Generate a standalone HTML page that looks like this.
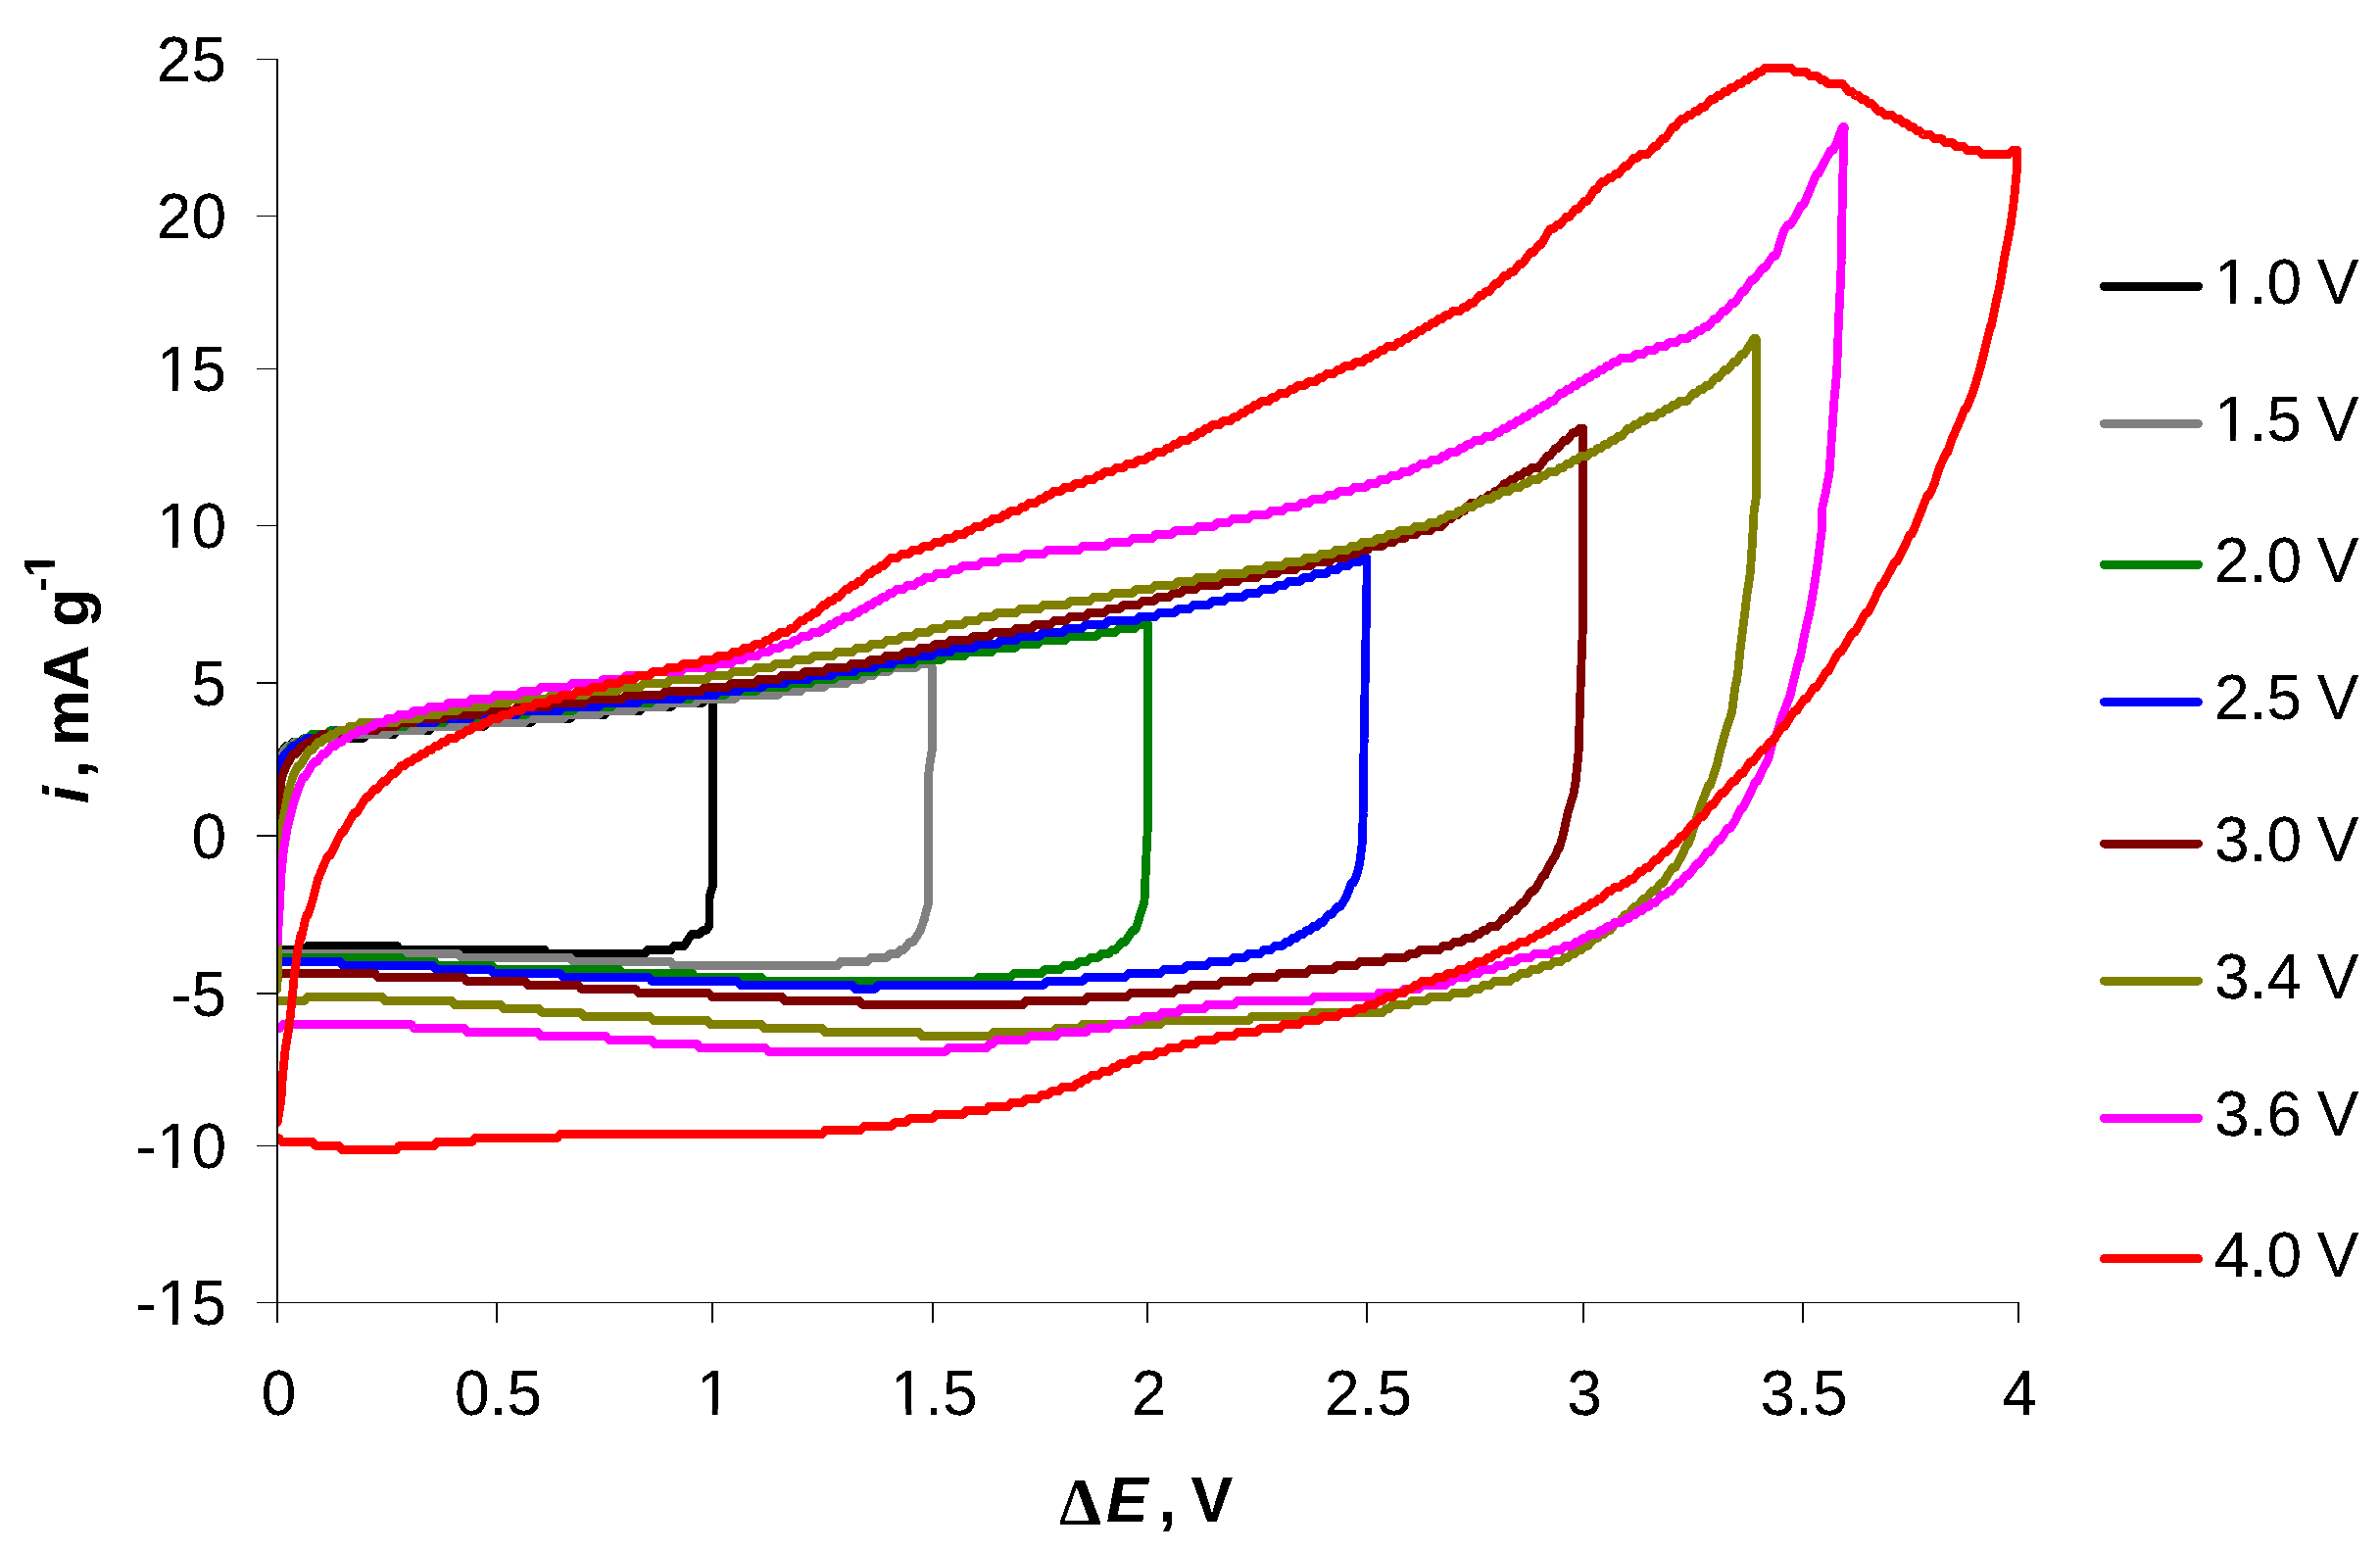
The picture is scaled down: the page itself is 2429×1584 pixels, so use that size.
<!DOCTYPE html>
<html><head><meta charset="utf-8"><title>CV chart</title>
<style>
html,body{margin:0;padding:0;background:#fff;}
body{width:2429px;height:1584px;overflow:hidden;}
svg{display:block;}
text{font-family:"Liberation Sans",Arial,sans-serif;fill:#000;}
</style></head><body>
<svg width="2429" height="1584" viewBox="0 0 2429 1584">
<rect width="2429" height="1584" fill="#fff"/>
<defs><clipPath id="pc"><rect x="283" y="40" width="1800" height="1289"/></clipPath>
<filter id="th" x="-5%" y="-5%" width="110%" height="110%" color-interpolation-filters="sRGB"><feComponentTransfer><feFuncA type="discrete" tableValues="0 0 1 1 1"/></feComponentTransfer></filter></defs>
<g clip-path="url(#pc)" fill="none" stroke-width="8.8" stroke-linejoin="round" stroke-linecap="round" shape-rendering="crispEdges">
<path d="M283.1 769.5 L286.0 769.5 L292.0 761.5 L295.5 761.5 L299.0 757.5 L306.6 757.5 L310.5 753.5 L370.3 753.5 L374.3 749.5 L402.1 749.5 L406.1 745.5 L437.9 745.5 L441.8 741.5 L493.7 741.5 L497.7 737.5 L541.5 737.5 L545.5 733.5 L581.3 733.5 L585.3 729.5 L617.1 729.5 L621.1 725.5 L652.9 725.5 L656.9 721.5 L684.7 721.5 L688.6 717.5 L716.4 717.5 L720.4 713.5 L727.6 713.5 L727.6 901.5 L727.1 905.5 L724.5 913.5 L724.0 917.5 L724.0 941.5 L723.6 945.5 L720.7 949.5 L717.5 949.5 L713.6 953.5 L706.2 953.5 L703.1 957.5 L698.3 965.5 L687.7 965.5 L684.8 969.5 L661.2 969.5 L658.3 973.5 L558.6 973.5 L555.8 969.5 L408.4 969.5 L405.5 965.5 L313.8 965.5 L310.7 969.5 L283.0 969.5" stroke="#000000"/>
<path d="M283.1 773.5 L285.5 773.5 L287.9 769.5 L290.4 765.5 L293.7 761.5 L297.1 761.5 L300.5 757.5 L308.1 757.5 L311.9 753.5 L339.6 753.5 L343.6 749.5 L395.4 749.5 L399.4 745.5 L431.2 745.5 L435.1 741.5 L479.0 741.5 L483.0 737.5 L534.8 737.5 L538.8 733.5 L574.6 733.5 L578.6 729.5 L610.4 729.5 L614.4 725.5 L646.2 725.5 L650.2 721.5 L678.0 721.5 L681.9 717.5 L709.7 717.5 L713.7 713.5 L749.5 713.5 L753.5 709.5 L793.3 709.5 L797.3 705.5 L817.0 705.5 L820.9 701.5 L840.6 701.5 L844.6 697.5 L864.2 697.5 L868.2 693.5 L879.7 693.5 L883.6 689.5 L891.2 689.5 L895.1 685.5 L906.6 685.5 L910.5 681.5 L934.3 681.5 L938.3 677.5 L950.2 677.5 L951.4 681.5 L951.4 765.5 L950.6 769.5 L949.2 777.5 L948.7 781.5 L948.3 785.5 L947.8 789.5 L947.6 793.5 L947.6 921.5 L946.6 925.5 L945.4 929.5 L944.3 933.5 L943.8 937.5 L943.3 937.5 L942.2 941.5 L939.4 949.5 L934.4 957.5 L931.6 961.5 L928.5 961.5 L925.5 965.5 L922.4 969.5 L919.3 969.5 L915.9 973.5 L908.4 973.5 L904.5 977.5 L888.9 977.5 L885.1 981.5 L857.9 981.5 L855.0 985.5 L687.3 985.5 L684.5 981.5 L584.8 981.5 L582.0 977.5 L470.6 977.5 L467.7 973.5 L283.0 973.5" stroke="#808080"/>
<path d="M283.1 781.5 L287.3 773.5 L289.4 773.5 L291.5 769.5 L293.9 765.5 L297.3 761.5 L300.6 761.5 L304.0 757.5 L307.4 757.5 L310.8 753.5 L314.3 753.5 L318.1 749.5 L333.6 749.5 L337.6 745.5 L361.3 745.5 L365.3 741.5 L413.2 741.5 L417.1 737.5 L452.9 737.5 L456.9 733.5 L492.7 733.5 L496.7 729.5 L536.6 729.5 L540.5 725.5 L584.4 725.5 L588.4 721.5 L624.2 721.5 L628.1 717.5 L664.0 717.5 L668.0 713.5 L703.8 713.5 L707.8 709.5 L739.6 709.5 L743.5 705.5 L771.3 705.5 L775.3 701.5 L803.1 701.5 L807.0 697.5 L826.8 697.5 L830.7 693.5 L850.4 693.5 L854.4 689.5 L874.1 689.5 L878.0 685.5 L893.6 685.5 L897.5 681.5 L909.2 681.5 L913.1 677.5 L932.8 677.5 L936.8 673.5 L960.5 673.5 L964.4 669.5 L984.2 669.5 L988.2 665.5 L1011.9 665.5 L1015.9 661.5 L1035.6 661.5 L1039.5 657.5 L1059.2 657.5 L1063.2 653.5 L1086.9 653.5 L1090.9 649.5 L1118.7 649.5 L1122.6 645.5 L1138.3 645.5 L1142.2 641.5 L1157.8 641.5 L1161.7 637.5 L1171.8 637.5 L1171.8 821.5 L1171.4 837.5 L1171.4 841.5 L1171.3 845.5 L1169.5 881.5 L1169.4 885.5 L1169.2 889.5 L1169.1 893.5 L1168.7 901.5 L1168.6 905.5 L1168.4 909.5 L1168.3 913.5 L1168.1 917.5 L1167.6 921.5 L1163.7 933.5 L1162.5 937.5 L1161.4 941.5 L1160.2 945.5 L1158.2 949.5 L1155.8 949.5 L1153.4 953.5 L1150.8 957.5 L1148.0 961.5 L1145.2 961.5 L1138.4 969.5 L1135.0 969.5 L1131.5 973.5 L1124.3 973.5 L1120.7 977.5 L1113.1 977.5 L1109.3 981.5 L1101.6 981.5 L1097.7 985.5 L1086.0 985.5 L1082.2 989.5 L1066.6 989.5 L1062.8 993.5 L1034.9 993.5 L1030.9 997.5 L999.2 997.5 L995.2 1001.5 L780.1 1001.5 L776.9 997.5 L709.5 997.5 L706.6 993.5 L635.3 993.5 L632.2 989.5 L504.7 989.5 L501.9 985.5 L446.5 985.5 L443.5 981.5 L411.7 981.5 L408.8 977.5 L283.0 977.5" stroke="#008000"/>
<path d="M283.1 785.5 L284.8 781.5 L286.6 777.5 L288.3 773.5 L290.7 769.5 L293.2 769.5 L295.8 765.5 L299.1 761.5 L302.6 761.5 L306.0 757.5 L309.6 757.5 L313.4 753.5 L324.8 753.5 L328.6 749.5 L340.2 749.5 L344.1 745.5 L371.9 745.5 L375.9 741.5 L403.7 741.5 L407.7 737.5 L443.5 737.5 L447.5 733.5 L479.3 733.5 L483.3 729.5 L527.1 729.5 L531.1 725.5 L570.9 725.5 L574.9 721.5 L610.7 721.5 L614.7 717.5 L650.5 717.5 L654.5 713.5 L694.3 713.5 L698.3 709.5 L730.1 709.5 L734.0 705.5 L753.8 705.5 L757.7 701.5 L777.4 701.5 L781.4 697.5 L801.1 697.5 L805.1 693.5 L824.8 693.5 L828.7 689.5 L848.5 689.5 L852.4 685.5 L872.1 685.5 L876.1 681.5 L891.7 681.5 L895.7 677.5 L911.3 677.5 L915.2 673.5 L930.9 673.5 L934.8 669.5 L950.5 669.5 L954.4 665.5 L970.1 665.5 L974.0 661.5 L993.7 661.5 L997.7 657.5 L1017.4 657.5 L1021.3 653.5 L1037.1 653.5 L1041.0 649.5 L1060.7 649.5 L1064.7 645.5 L1084.3 645.5 L1088.3 641.5 L1104.0 641.5 L1107.9 637.5 L1127.6 637.5 L1131.6 633.5 L1159.4 633.5 L1163.3 629.5 L1179.1 629.5 L1183.0 625.5 L1198.6 625.5 L1202.5 621.5 L1214.1 621.5 L1218.0 617.5 L1233.6 617.5 L1237.5 613.5 L1249.2 613.5 L1253.1 609.5 L1268.7 609.5 L1272.6 605.5 L1284.2 605.5 L1288.0 601.5 L1299.6 601.5 L1303.5 597.5 L1311.2 597.5 L1315.1 593.5 L1326.7 593.5 L1330.5 589.5 L1338.1 589.5 L1341.9 585.5 L1353.4 585.5 L1357.2 581.5 L1364.8 581.5 L1368.6 577.5 L1376.1 577.5 L1379.8 573.5 L1387.4 573.5 L1391.1 569.5 L1394.9 569.5 L1394.9 597.5 L1394.7 605.5 L1394.7 609.5 L1394.4 621.5 L1394.4 625.5 L1394.2 633.5 L1394.2 637.5 L1393.9 649.5 L1393.9 653.5 L1393.7 661.5 L1393.7 665.5 L1393.4 677.5 L1393.4 681.5 L1393.2 689.5 L1393.2 693.5 L1393.0 701.5 L1393.0 705.5 L1392.7 717.5 L1392.7 721.5 L1392.5 729.5 L1392.5 733.5 L1392.3 741.5 L1392.3 745.5 L1392.1 753.5 L1392.1 757.5 L1391.9 765.5 L1391.9 769.5 L1391.7 777.5 L1391.7 785.5 L1391.6 789.5 L1391.6 793.5 L1391.5 797.5 L1391.5 805.5 L1391.4 809.5 L1391.4 813.5 L1391.3 817.5 L1391.3 821.5 L1391.1 829.5 L1391.1 833.5 L1390.8 845.5 L1390.8 849.5 L1390.6 857.5 L1390.2 861.5 L1389.6 865.5 L1387.6 881.5 L1386.8 885.5 L1385.6 889.5 L1384.5 893.5 L1382.8 897.5 L1381.0 901.5 L1379.2 901.5 L1374.7 913.5 L1372.7 917.5 L1367.9 925.5 L1365.1 925.5 L1358.7 933.5 L1355.6 933.5 L1350.0 941.5 L1347.1 941.5 L1343.8 945.5 L1340.4 945.5 L1337.0 949.5 L1333.6 949.5 L1330.0 953.5 L1326.4 953.5 L1322.8 957.5 L1319.2 957.5 L1315.7 961.5 L1312.1 961.5 L1308.5 965.5 L1301.1 965.5 L1297.3 969.5 L1289.7 969.5 L1285.9 973.5 L1274.3 973.5 L1270.4 977.5 L1258.8 977.5 L1254.9 981.5 L1235.2 981.5 L1231.3 985.5 L1211.6 985.5 L1207.7 989.5 L1187.9 989.5 L1183.9 993.5 L1152.1 993.5 L1148.2 997.5 L1108.3 997.5 L1104.4 1001.5 L1068.6 1001.5 L1064.6 1005.5 L896.7 1005.5 L892.7 1009.5 L872.7 1009.5 L870.0 1005.5 L755.7 1005.5 L752.2 1001.5 L665.3 1001.5 L662.2 997.5 L574.7 997.5 L571.6 993.5 L504.0 993.5 L500.5 989.5 L445.3 989.5 L442.0 985.5 L350.2 985.5 L347.0 981.5 L283.1 981.5" stroke="#0000ff"/>
<path d="M283.1 845.5 L284.6 825.5 L285.0 821.5 L286.5 801.5 L286.9 797.5 L287.8 793.5 L290.6 785.5 L292.3 781.5 L294.6 777.5 L297.0 773.5 L299.3 769.5 L302.1 769.5 L305.0 765.5 L307.8 761.5 L311.0 761.5 L314.4 757.5 L317.8 757.5 L321.2 753.5 L324.9 753.5 L328.7 749.5 L352.4 749.5 L356.3 745.5 L384.1 745.5 L388.0 741.5 L403.6 741.5 L407.5 737.5 L423.2 737.5 L422.0 737.5 L424.6 733.5 L452.3 733.5 L456.3 729.5 L488.1 729.5 L492.1 725.5 L523.9 725.5 L527.9 721.5 L559.7 721.5 L563.6 717.5 L595.4 717.5 L599.4 713.5 L635.2 713.5 L639.2 709.5 L675.0 709.5 L679.0 705.5 L714.9 705.5 L718.8 701.5 L742.6 701.5 L746.5 697.5 L770.3 697.5 L774.2 693.5 L793.9 693.5 L797.9 689.5 L817.6 689.5 L821.5 685.5 L841.2 685.5 L845.2 681.5 L864.9 681.5 L868.9 677.5 L884.5 677.5 L888.4 673.5 L900.1 673.5 L904.0 669.5 L919.6 669.5 L923.5 665.5 L935.1 665.5 L939.0 661.5 L950.7 661.5 L954.5 657.5 L966.2 657.5 L970.1 653.5 L989.7 653.5 L993.7 649.5 L1009.4 649.5 L1013.4 645.5 L1033.0 645.5 L1037.0 641.5 L1052.7 641.5 L1056.6 637.5 L1072.3 637.5 L1076.2 633.5 L1087.9 633.5 L1091.8 629.5 L1107.4 629.5 L1111.3 625.5 L1126.9 625.5 L1130.8 621.5 L1142.5 621.5 L1146.4 617.5 L1162.0 617.5 L1165.9 613.5 L1177.6 613.5 L1181.4 609.5 L1193.0 609.5 L1196.8 605.5 L1204.6 605.5 L1208.4 601.5 L1220.0 601.5 L1223.9 597.5 L1243.5 597.5 L1247.5 593.5 L1263.2 593.5 L1267.1 589.5 L1282.8 589.5 L1286.7 585.5 L1302.4 585.5 L1306.3 581.5 L1321.9 581.5 L1325.8 577.5 L1337.5 577.5 L1341.4 573.5 L1357.0 573.5 L1360.9 569.5 L1372.6 569.5 L1376.5 565.5 L1384.1 565.5 L1387.8 561.5 L1395.4 561.5 L1399.2 557.5 L1410.6 557.5 L1414.4 553.5 L1421.9 553.5 L1425.7 549.5 L1433.4 549.5 L1437.2 545.5 L1444.8 545.5 L1448.6 541.5 L1460.0 541.5 L1463.9 537.5 L1471.3 537.5 L1477.9 529.5 L1481.2 529.5 L1484.5 525.5 L1487.8 525.5 L1491.1 521.5 L1494.4 521.5 L1497.7 517.5 L1501.1 513.5 L1508.2 513.5 L1511.8 509.5 L1515.4 509.5 L1518.9 505.5 L1522.3 505.5 L1525.6 501.5 L1528.9 501.5 L1535.5 493.5 L1538.7 493.5 L1542.0 489.5 L1545.3 489.5 L1548.8 485.5 L1552.4 485.5 L1556.0 481.5 L1559.6 481.5 L1563.2 477.5 L1570.3 477.5 L1576.1 469.5 L1578.9 465.5 L1581.7 465.5 L1584.6 461.5 L1587.4 457.5 L1590.2 457.5 L1593.2 453.5 L1596.3 449.5 L1599.4 449.5 L1602.4 445.5 L1605.5 441.5 L1608.6 441.5 L1611.8 437.5 L1615.7 437.5 L1615.7 633.5 L1615.5 637.5 L1615.4 641.5 L1615.0 649.5 L1614.9 653.5 L1614.7 657.5 L1614.6 661.5 L1614.4 665.5 L1614.3 669.5 L1614.1 673.5 L1614.0 677.5 L1613.8 681.5 L1613.7 685.5 L1613.5 689.5 L1613.4 693.5 L1613.2 697.5 L1613.0 705.5 L1612.8 709.5 L1612.7 713.5 L1612.5 717.5 L1611.7 749.5 L1611.5 753.5 L1611.2 765.5 L1610.9 769.5 L1608.9 789.5 L1608.6 793.5 L1608.1 797.5 L1607.5 801.5 L1606.8 805.5 L1606.2 809.5 L1600.2 829.5 L1597.5 841.5 L1596.7 845.5 L1595.8 849.5 L1595.0 853.5 L1591.4 865.5 L1590.2 865.5 L1589.0 869.5 L1587.2 873.5 L1582.4 881.5 L1580.2 885.5 L1578.4 889.5 L1576.7 893.5 L1574.7 893.5 L1572.6 897.5 L1570.4 901.5 L1568.0 905.5 L1565.3 909.5 L1562.6 909.5 L1555.1 921.5 L1552.7 921.5 L1550.0 925.5 L1546.8 929.5 L1543.6 929.5 L1540.4 933.5 L1537.3 937.5 L1534.2 937.5 L1531.0 941.5 L1527.9 945.5 L1520.7 945.5 L1517.2 949.5 L1513.6 949.5 L1510.0 953.5 L1506.4 953.5 L1502.9 957.5 L1495.4 957.5 L1491.6 961.5 L1484.0 961.5 L1480.3 965.5 L1472.7 965.5 L1468.9 969.5 L1449.3 969.5 L1445.7 973.5 L1438.5 973.5 L1434.5 977.5 L1415.2 977.5 L1411.2 981.5 L1387.8 981.5 L1383.8 985.5 L1364.4 985.5 L1360.4 989.5 L1337.1 989.5 L1333.2 993.5 L1305.7 993.5 L1301.9 997.5 L1278.4 997.5 L1274.8 1001.5 L1247.0 1001.5 L1243.3 1005.5 L1215.9 1005.5 L1211.9 1009.5 L1201.0 1009.5 L1197.2 1013.5 L1153.8 1013.5 L1149.8 1017.5 L1110.2 1017.5 L1107.1 1021.5 L1047.1 1021.5 L1043.8 1025.5 L880.6 1025.5 L876.8 1021.5 L801.2 1021.5 L798.2 1017.5 L726.6 1017.5 L723.3 1013.5 L651.8 1013.5 L648.5 1009.5 L593.4 1009.5 L590.1 1005.5 L539.0 1005.5 L535.9 1001.5 L476.4 1001.5 L473.2 997.5 L385.7 997.5 L382.5 993.5 L283.1 993.5" stroke="#800000"/>
<path d="M283.0 1009.5 L283.0 1005.5 L283.1 1001.5 L283.1 997.5 L283.2 993.5 L283.2 985.5 L283.3 981.5 L283.3 977.5 L283.4 973.5 L283.4 969.5 L283.5 965.5 L283.5 953.5 L283.6 949.5 L283.6 937.5 L283.7 933.5 L283.7 917.5 L283.8 913.5 L283.8 897.5 L283.9 893.5 L283.9 881.5 L284.0 877.5 L284.0 869.5 L284.5 865.5 L285.1 861.5 L285.6 857.5 L286.2 853.5 L287.2 845.5 L288.0 841.5 L288.7 837.5 L290.3 829.5 L291.0 825.5 L291.8 821.5 L293.2 813.5 L294.0 809.5 L294.9 805.5 L300.1 789.5 L302.2 785.5 L304.2 781.5 L306.4 781.5 L311.0 773.5 L313.4 769.5 L315.9 765.5 L318.8 765.5 L321.6 761.5 L324.5 757.5 L327.9 757.5 L331.4 753.5 L334.8 753.5 L338.2 749.5 L341.8 749.5 L345.6 745.5 L353.0 745.5 L356.7 741.5 L364.3 741.5 L368.0 737.5 L403.8 737.5 L407.7 733.5 L427.4 733.5 L431.4 729.5 L447.1 729.5 L451.0 725.5 L466.7 725.5 L470.6 721.5 L494.3 721.5 L498.3 717.5 L518.1 717.5 L522.0 713.5 L557.9 713.5 L561.8 709.5 L597.7 709.5 L601.6 705.5 L629.4 705.5 L633.4 701.5 L653.1 701.5 L657.0 697.5 L680.7 697.5 L684.7 693.5 L720.5 693.5 L724.5 689.5 L744.2 689.5 L748.2 685.5 L767.9 685.5 L771.8 681.5 L787.5 681.5 L791.4 677.5 L807.1 677.5 L811.0 673.5 L826.7 673.5 L830.6 669.5 L850.3 669.5 L854.2 665.5 L869.9 665.5 L873.8 661.5 L885.4 661.5 L889.3 657.5 L901.0 657.5 L904.8 653.5 L916.5 653.5 L920.4 649.5 L932.0 649.5 L935.9 645.5 L947.5 645.5 L951.4 641.5 L963.0 641.5 L966.9 637.5 L982.5 637.5 L986.3 633.5 L998.0 633.5 L1001.9 629.5 L1013.5 629.5 L1017.4 625.5 L1037.1 625.5 L1041.0 621.5 L1060.8 621.5 L1064.8 617.5 L1088.5 617.5 L1092.4 613.5 L1112.1 613.5 L1116.1 609.5 L1131.8 609.5 L1135.8 605.5 L1155.4 605.5 L1159.4 601.5 L1175.1 601.5 L1179.0 597.5 L1198.7 597.5 L1202.6 593.5 L1218.3 593.5 L1222.2 589.5 L1242.0 589.5 L1246.0 585.5 L1269.7 585.5 L1273.7 581.5 L1289.3 581.5 L1293.2 577.5 L1308.9 577.5 L1312.8 573.5 L1328.4 573.5 L1332.3 569.5 L1343.9 569.5 L1347.8 565.5 L1359.5 565.5 L1363.3 561.5 L1375.0 561.5 L1378.8 557.5 L1386.4 557.5 L1390.3 553.5 L1401.7 553.5 L1405.5 549.5 L1413.2 549.5 L1417.0 545.5 L1424.6 545.5 L1428.4 541.5 L1440.0 541.5 L1443.8 537.5 L1455.3 537.5 L1459.2 533.5 L1466.9 533.5 L1470.7 529.5 L1474.2 529.5 L1477.8 525.5 L1485.0 525.5 L1488.6 521.5 L1492.1 521.5 L1495.8 517.5 L1503.1 517.5 L1506.8 513.5 L1510.5 513.5 L1514.2 509.5 L1521.5 509.5 L1525.3 505.5 L1529.0 505.5 L1532.7 501.5 L1540.1 501.5 L1543.8 497.5 L1551.3 497.5 L1555.0 493.5 L1558.7 493.5 L1562.4 489.5 L1569.8 489.5 L1573.5 485.5 L1577.1 485.5 L1580.8 481.5 L1588.1 481.5 L1591.7 477.5 L1595.4 477.5 L1598.9 473.5 L1602.4 473.5 L1605.9 469.5 L1609.4 469.5 L1612.9 465.5 L1620.0 465.5 L1623.5 461.5 L1627.0 461.5 L1630.5 457.5 L1634.0 457.5 L1637.5 453.5 L1641.0 453.5 L1644.5 449.5 L1647.9 449.5 L1651.3 445.5 L1654.6 445.5 L1658.0 441.5 L1661.3 437.5 L1664.7 437.5 L1668.0 433.5 L1671.4 433.5 L1675.0 429.5 L1678.5 429.5 L1682.1 425.5 L1689.3 425.5 L1692.8 421.5 L1696.4 421.5 L1700.0 417.5 L1703.6 417.5 L1707.2 413.5 L1710.7 413.5 L1714.3 409.5 L1721.5 409.5 L1728.1 401.5 L1731.4 401.5 L1734.6 397.5 L1737.9 397.5 L1741.2 393.5 L1744.5 393.5 L1747.7 389.5 L1750.8 385.5 L1753.9 385.5 L1757.0 381.5 L1760.2 377.5 L1763.3 377.5 L1766.4 373.5 L1769.2 369.5 L1771.9 369.5 L1777.3 361.5 L1779.9 361.5 L1782.5 357.5 L1790.0 345.5 L1792.2 345.5 L1792.2 505.5 L1792.1 509.5 L1791.4 513.5 L1790.2 521.5 L1789.9 525.5 L1789.1 541.5 L1788.8 545.5 L1788.2 557.5 L1787.6 565.5 L1787.4 569.5 L1786.8 577.5 L1786.6 581.5 L1786.2 585.5 L1782.6 609.5 L1782.1 613.5 L1781.7 617.5 L1780.2 629.5 L1779.8 633.5 L1779.3 637.5 L1778.7 641.5 L1776.2 661.5 L1773.8 685.5 L1772.0 697.5 L1771.5 697.5 L1769.7 709.5 L1767.7 725.5 L1766.8 729.5 L1765.5 733.5 L1764.1 737.5 L1761.5 745.5 L1760.3 749.5 L1755.9 765.5 L1754.9 769.5 L1753.1 777.5 L1752.0 781.5 L1749.4 789.5 L1748.2 793.5 L1746.8 797.5 L1745.3 801.5 L1743.7 801.5 L1742.2 805.5 L1740.6 809.5 L1737.6 817.5 L1736.0 821.5 L1734.5 825.5 L1733.3 829.5 L1732.0 833.5 L1730.8 837.5 L1729.5 841.5 L1728.4 845.5 L1727.2 849.5 L1726.1 853.5 L1724.5 857.5 L1723.0 861.5 L1721.4 861.5 L1718.2 869.5 L1716.1 873.5 L1714.1 877.5 L1712.0 881.5 L1709.8 885.5 L1707.1 885.5 L1704.5 889.5 L1701.8 893.5 L1699.4 897.5 L1697.1 901.5 L1694.7 901.5 L1691.8 905.5 L1688.8 909.5 L1685.8 909.5 L1679.8 917.5 L1676.8 917.5 L1670.8 925.5 L1667.7 925.5 L1664.7 929.5 L1661.6 933.5 L1658.5 933.5 L1652.5 941.5 L1649.5 941.5 L1643.5 949.5 L1640.2 949.5 L1637.0 953.5 L1633.7 953.5 L1630.5 957.5 L1627.2 957.5 L1620.6 965.5 L1617.3 965.5 L1614.0 969.5 L1610.6 969.5 L1607.1 973.5 L1603.7 973.5 L1600.2 977.5 L1596.7 977.5 L1593.2 981.5 L1585.7 981.5 L1581.9 985.5 L1574.4 985.5 L1570.6 989.5 L1563.1 989.5 L1559.4 993.5 L1552.0 993.5 L1548.3 997.5 L1544.6 997.5 L1540.9 1001.5 L1525.2 1001.5 L1521.3 1005.5 L1513.7 1005.5 L1510.0 1009.5 L1502.5 1009.5 L1498.7 1013.5 L1483.0 1013.5 L1479.2 1017.5 L1459.7 1017.5 L1455.7 1021.5 L1440.6 1021.5 L1437.3 1025.5 L1421.3 1025.5 L1417.8 1029.5 L1414.6 1029.5 L1411.4 1033.5 L1340.2 1033.5 L1337.0 1037.5 L1277.6 1037.5 L1274.7 1041.5 L1187.3 1041.5 L1183.9 1045.5 L1104.8 1045.5 L1100.8 1049.5 L1077.8 1049.5 L1074.0 1053.5 L1014.0 1053.5 L1011.1 1057.5 L941.0 1057.5 L938.2 1053.5 L842.2 1053.5 L839.2 1049.5 L780.2 1049.5 L777.0 1045.5 L725.1 1045.5 L721.8 1041.5 L666.7 1041.5 L663.3 1037.5 L596.0 1037.5 L592.6 1033.5 L553.4 1033.5 L549.9 1029.5 L514.2 1029.5 L511.0 1025.5 L464.0 1025.5 L460.7 1021.5 L393.3 1021.5 L389.9 1017.5 L313.9 1017.5 L310.5 1021.5 L283.1 1021.5" stroke="#808000"/>
<path d="M283.1 961.5 L283.3 957.5 L283.6 953.5 L283.8 949.5 L284.1 945.5 L284.3 941.5 L284.6 937.5 L284.8 933.5 L285.1 929.5 L286.9 893.5 L287.2 889.5 L289.2 869.5 L289.7 865.5 L291.1 857.5 L291.7 853.5 L293.1 845.5 L294.0 841.5 L295.0 837.5 L296.1 833.5 L298.1 825.5 L299.2 821.5 L301.6 813.5 L304.2 805.5 L305.8 801.5 L307.5 797.5 L309.1 793.5 L310.9 793.5 L313.3 789.5 L317.9 781.5 L320.7 777.5 L323.6 777.5 L326.4 773.5 L329.3 769.5 L332.3 769.5 L335.3 765.5 L338.4 761.5 L341.7 761.5 L345.1 757.5 L348.5 757.5 L352.0 753.5 L355.4 753.5 L359.0 749.5 L362.5 749.5 L366.1 745.5 L373.3 745.5 L377.0 741.5 L380.7 741.5 L384.4 737.5 L391.9 737.5 L395.7 733.5 L403.4 733.5 L407.2 729.5 L418.7 729.5 L422.5 725.5 L434.1 725.5 L438.0 721.5 L453.8 721.5 L457.7 717.5 L477.3 717.5 L481.3 713.5 L501.0 713.5 L505.0 709.5 L528.7 709.5 L532.6 705.5 L548.3 705.5 L552.3 701.5 L580.0 701.5 L584.0 697.5 L611.8 697.5 L615.7 693.5 L635.5 693.5 L639.5 689.5 L663.2 689.5 L667.2 685.5 L695.0 685.5 L698.9 681.5 L726.7 681.5 L730.7 677.5 L746.2 677.5 L750.1 673.5 L757.7 673.5 L761.6 669.5 L773.0 669.5 L776.9 665.5 L784.5 665.5 L788.3 661.5 L795.7 661.5 L799.5 657.5 L806.9 657.5 L810.6 653.5 L814.3 653.5 L818.0 649.5 L825.4 649.5 L829.2 645.5 L836.6 645.5 L840.2 641.5 L843.8 641.5 L847.3 637.5 L850.9 637.5 L854.5 633.5 L858.1 633.5 L861.7 629.5 L868.8 629.5 L872.3 625.5 L875.8 625.5 L879.4 621.5 L882.9 621.5 L886.4 617.5 L889.9 617.5 L893.4 613.5 L896.9 613.5 L900.5 609.5 L904.1 609.5 L907.7 605.5 L911.2 605.5 L914.8 601.5 L922.0 601.5 L925.7 597.5 L933.2 597.5 L936.9 593.5 L940.6 593.5 L944.3 589.5 L951.9 589.5 L955.7 585.5 L967.1 585.5 L970.9 581.5 L978.7 581.5 L982.6 577.5 L998.1 577.5 L1002.0 573.5 L1017.8 573.5 L1021.7 569.5 L1041.4 569.5 L1045.4 565.5 L1065.1 565.5 L1069.0 561.5 L1100.8 561.5 L1104.8 557.5 L1128.6 557.5 L1132.5 553.5 L1152.2 553.5 L1156.1 549.5 L1175.8 549.5 L1179.7 545.5 L1195.5 545.5 L1199.4 541.5 L1219.1 541.5 L1223.0 537.5 L1238.7 537.5 L1242.6 533.5 L1254.3 533.5 L1258.2 529.5 L1273.9 529.5 L1277.8 525.5 L1293.4 525.5 L1297.3 521.5 L1309.1 521.5 L1312.9 517.5 L1324.4 517.5 L1328.2 513.5 L1335.8 513.5 L1339.6 509.5 L1351.1 509.5 L1355.0 505.5 L1362.7 505.5 L1366.6 501.5 L1378.2 501.5 L1382.0 497.5 L1393.5 497.5 L1397.3 493.5 L1404.9 493.5 L1408.7 489.5 L1416.3 489.5 L1420.1 485.5 L1427.6 485.5 L1431.3 481.5 L1438.7 481.5 L1442.5 477.5 L1446.2 477.5 L1449.9 473.5 L1457.4 473.5 L1461.1 469.5 L1468.6 469.5 L1472.2 465.5 L1475.8 465.5 L1479.4 461.5 L1486.6 461.5 L1490.1 457.5 L1493.7 457.5 L1497.4 453.5 L1501.1 453.5 L1504.8 449.5 L1512.2 449.5 L1515.9 445.5 L1523.3 445.5 L1526.8 441.5 L1530.4 441.5 L1534.0 437.5 L1537.6 437.5 L1541.1 433.5 L1544.7 433.5 L1548.2 429.5 L1551.6 429.5 L1555.0 425.5 L1558.5 425.5 L1561.9 421.5 L1565.3 421.5 L1568.8 417.5 L1572.2 417.5 L1575.5 413.5 L1578.9 413.5 L1582.2 409.5 L1585.6 409.5 L1588.9 405.5 L1592.3 401.5 L1595.6 401.5 L1599.0 397.5 L1602.4 397.5 L1605.7 393.5 L1609.1 393.5 L1612.4 389.5 L1615.8 389.5 L1619.1 385.5 L1622.5 385.5 L1625.9 381.5 L1629.4 381.5 L1632.8 377.5 L1636.2 377.5 L1639.7 373.5 L1643.1 373.5 L1646.5 369.5 L1650.4 369.5 L1654.2 365.5 L1665.7 365.5 L1669.5 361.5 L1677.1 361.5 L1680.9 357.5 L1688.4 357.5 L1692.2 353.5 L1699.8 353.5 L1703.5 349.5 L1711.1 349.5 L1714.9 345.5 L1722.4 345.5 L1725.8 341.5 L1729.2 341.5 L1732.7 337.5 L1736.1 337.5 L1739.5 333.5 L1743.0 333.5 L1746.4 329.5 L1749.5 325.5 L1752.5 325.5 L1755.4 321.5 L1758.4 317.5 L1761.4 317.5 L1764.4 313.5 L1767.3 309.5 L1770.3 309.5 L1773.1 305.5 L1777.9 297.5 L1780.3 297.5 L1787.5 285.5 L1790.3 285.5 L1793.1 281.5 L1796.0 277.5 L1798.7 273.5 L1801.3 273.5 L1806.5 265.5 L1809.2 261.5 L1811.8 261.5 L1813.6 257.5 L1814.9 253.5 L1816.1 249.5 L1817.4 245.5 L1818.6 241.5 L1819.9 237.5 L1821.9 233.5 L1824.5 229.5 L1827.0 229.5 L1832.2 221.5 L1834.3 217.5 L1838.3 209.5 L1840.3 209.5 L1842.3 205.5 L1845.7 197.5 L1848.9 189.5 L1850.6 185.5 L1852.2 181.5 L1853.9 177.5 L1855.9 177.5 L1861.9 165.5 L1864.0 161.5 L1868.4 153.5 L1870.6 153.5 L1872.8 149.5 L1874.5 145.5 L1877.3 137.5 L1878.9 133.5 L1880.8 129.5 L1882.2 129.5 L1881.4 161.5 L1881.2 165.5 L1880.7 185.5 L1880.7 189.5 L1879.6 233.5 L1879.6 237.5 L1879.4 245.5 L1879.4 249.5 L1879.3 253.5 L1879.3 257.5 L1879.1 265.5 L1879.1 269.5 L1878.8 281.5 L1876.4 329.5 L1876.3 333.5 L1876.1 337.5 L1875.9 345.5 L1875.7 349.5 L1875.6 353.5 L1875.4 357.5 L1875.3 361.5 L1875.1 365.5 L1874.9 373.5 L1874.5 381.5 L1873.7 389.5 L1873.4 393.5 L1872.2 405.5 L1871.6 413.5 L1871.4 417.5 L1870.8 425.5 L1870.6 429.5 L1870.0 437.5 L1869.8 441.5 L1869.2 449.5 L1869.0 453.5 L1868.7 457.5 L1868.5 461.5 L1867.9 469.5 L1867.7 473.5 L1867.1 481.5 L1865.0 493.5 L1864.2 497.5 L1863.5 501.5 L1862.6 505.5 L1861.8 509.5 L1860.0 517.5 L1859.5 521.5 L1859.5 537.5 L1859.3 541.5 L1855.8 569.5 L1855.2 573.5 L1854.7 577.5 L1852.3 593.5 L1851.6 597.5 L1851.0 601.5 L1848.9 613.5 L1848.3 617.5 L1847.6 621.5 L1842.2 645.5 L1839.8 657.5 L1839.1 661.5 L1836.7 673.5 L1835.8 673.5 L1833.8 681.5 L1832.9 685.5 L1829.9 697.5 L1829.0 701.5 L1827.0 709.5 L1825.6 713.5 L1824.0 717.5 L1822.5 721.5 L1819.3 729.5 L1818.0 733.5 L1816.8 737.5 L1814.2 745.5 L1813.0 749.5 L1811.7 753.5 L1810.4 753.5 L1809.2 757.5 L1805.2 773.5 L1803.2 777.5 L1799.0 785.5 L1797.1 789.5 L1793.5 797.5 L1791.7 797.5 L1788.1 805.5 L1786.4 809.5 L1782.2 817.5 L1778.2 825.5 L1776.4 825.5 L1774.6 829.5 L1772.9 833.5 L1771.0 837.5 L1768.3 841.5 L1765.7 845.5 L1763.0 845.5 L1755.5 857.5 L1753.1 857.5 L1747.7 865.5 L1745.1 869.5 L1742.4 869.5 L1737.0 877.5 L1734.4 881.5 L1731.7 881.5 L1729.0 885.5 L1726.1 889.5 L1723.3 893.5 L1720.5 893.5 L1717.7 897.5 L1714.8 901.5 L1711.9 901.5 L1709.0 905.5 L1706.0 909.5 L1702.9 909.5 L1699.5 913.5 L1696.1 913.5 L1692.8 917.5 L1689.4 921.5 L1685.9 921.5 L1682.5 925.5 L1679.1 925.5 L1675.7 929.5 L1672.4 929.5 L1669.2 933.5 L1665.9 933.5 L1662.4 937.5 L1658.8 937.5 L1655.1 941.5 L1647.7 941.5 L1644.1 945.5 L1640.5 945.5 L1636.9 949.5 L1633.4 949.5 L1629.8 953.5 L1622.6 953.5 L1619.1 957.5 L1615.4 957.5 L1611.7 961.5 L1608.1 961.5 L1604.4 965.5 L1596.9 965.5 L1593.2 969.5 L1585.6 969.5 L1581.8 973.5 L1566.1 973.5 L1562.3 977.5 L1550.6 977.5 L1546.7 981.5 L1539.2 981.5 L1535.4 985.5 L1527.9 985.5 L1524.1 989.5 L1512.7 989.5 L1508.8 993.5 L1501.2 993.5 L1497.3 997.5 L1485.8 997.5 L1481.9 1001.5 L1478.1 1001.5 L1474.8 1005.5 L1451.9 1005.5 L1447.9 1009.5 L1433.0 1009.5 L1429.2 1013.5 L1407.1 1013.5 L1404.9 1017.5 L1341.3 1017.5 L1338.1 1021.5 L1262.7 1021.5 L1259.4 1025.5 L1232.0 1025.5 L1228.8 1029.5 L1205.1 1029.5 L1201.9 1033.5 L1186.3 1033.5 L1182.9 1037.5 L1167.6 1037.5 L1164.3 1041.5 L1152.8 1041.5 L1149.5 1045.5 L1134.2 1045.5 L1131.0 1049.5 L1111.5 1049.5 L1108.7 1053.5 L1081.5 1053.5 L1077.8 1057.5 L1050.7 1057.5 L1047.4 1061.5 L1016.8 1061.5 L1013.1 1065.5 L1010.2 1065.5 L1006.9 1069.5 L967.9 1069.5 L964.7 1073.5 L784.7 1073.5 L780.9 1069.5 L713.9 1069.5 L711.6 1065.5 L668.0 1065.5 L664.8 1061.5 L621.9 1061.5 L618.4 1057.5 L551.7 1057.5 L549.2 1053.5 L477.2 1053.5 L473.9 1049.5 L422.5 1049.5 L419.7 1045.5 L288.9 1045.5 L285.4 1049.5 L283.1 1049.5" stroke="#ff00ff"/>
<path d="M283.1 1145.5 L283.8 1141.5 L284.4 1137.5 L285.8 1129.5 L286.4 1125.5 L286.9 1121.5 L287.2 1117.5 L287.4 1113.5 L287.7 1109.5 L287.9 1105.5 L288.5 1097.5 L290.9 1073.5 L292.1 1065.5 L293.5 1057.5 L294.1 1053.5 L294.8 1049.5 L295.8 1041.5 L296.6 1033.5 L297.1 1029.5 L298.7 1013.5 L299.0 1009.5 L299.8 1001.5 L300.1 997.5 L300.6 993.5 L301.2 989.5 L302.7 977.5 L303.9 969.5 L304.7 965.5 L305.6 961.5 L307.2 953.5 L307.6 953.5 L307.3 957.5 L307.4 957.5 L311.9 937.5 L313.2 933.5 L314.4 933.5 L317.0 925.5 L318.2 921.5 L319.5 917.5 L320.4 913.5 L322.4 905.5 L323.3 901.5 L324.4 897.5 L327.8 889.5 L329.4 885.5 L331.1 881.5 L332.9 877.5 L334.9 873.5 L336.8 873.5 L338.7 869.5 L340.7 865.5 L344.5 857.5 L346.5 853.5 L348.4 849.5 L350.4 849.5 L352.4 845.5 L354.6 841.5 L361.5 829.5 L364.0 829.5 L366.5 825.5 L368.9 821.5 L373.9 813.5 L376.4 813.5 L379.0 809.5 L381.9 805.5 L384.9 805.5 L390.9 797.5 L393.9 797.5 L400.1 789.5 L403.2 789.5 L406.4 785.5 L409.5 781.5 L412.9 781.5 L416.4 777.5 L419.8 777.5 L423.2 773.5 L426.6 773.5 L430.1 769.5 L433.5 769.5 L436.9 765.5 L440.4 765.5 L443.9 761.5 L447.4 761.5 L451.0 757.5 L454.5 757.5 L458.0 753.5 L465.1 753.5 L468.6 749.5 L472.3 749.5 L475.9 745.5 L479.5 745.5 L483.2 741.5 L490.5 741.5 L494.1 737.5 L497.8 737.5 L501.5 733.5 L508.9 733.5 L512.6 729.5 L520.0 729.5 L523.8 725.5 L531.5 725.5 L535.3 721.5 L543.0 721.5 L546.8 717.5 L558.3 717.5 L562.1 713.5 L569.8 713.5 L573.6 709.5 L585.3 709.5 L589.2 705.5 L600.8 705.5 L604.6 701.5 L616.1 701.5 L619.9 697.5 L631.5 697.5 L635.4 693.5 L647.0 693.5 L650.9 689.5 L662.6 689.5 L666.4 685.5 L678.1 685.5 L682.0 681.5 L693.6 681.5 L697.5 677.5 L713.2 677.5 L717.1 673.5 L728.7 673.5 L732.6 669.5 L744.1 669.5 L747.9 665.5 L755.5 665.5 L759.2 661.5 L766.8 661.5 L770.6 657.5 L778.0 657.5 L781.6 653.5 L785.3 653.5 L788.9 649.5 L792.6 649.5 L796.2 645.5 L803.2 645.5 L806.7 641.5 L810.1 641.5 L813.5 637.5 L817.0 633.5 L820.4 633.5 L823.8 629.5 L827.1 629.5 L830.3 625.5 L833.5 625.5 L839.9 617.5 L843.1 617.5 L846.3 613.5 L849.5 613.5 L852.8 609.5 L856.1 609.5 L862.7 601.5 L866.0 601.5 L869.3 597.5 L872.6 597.5 L875.9 593.5 L879.1 593.5 L885.7 585.5 L889.0 585.5 L892.2 581.5 L895.5 581.5 L898.8 577.5 L902.1 577.5 L905.3 573.5 L908.7 569.5 L916.2 569.5 L920.0 565.5 L927.5 565.5 L931.2 561.5 L938.8 561.5 L942.5 557.5 L950.0 557.5 L953.8 553.5 L961.3 553.5 L965.0 549.5 L972.5 549.5 L976.3 545.5 L983.8 545.5 L987.5 541.5 L991.1 541.5 L994.8 537.5 L1002.2 537.5 L1005.8 533.5 L1009.5 533.5 L1013.2 529.5 L1020.5 529.5 L1024.2 525.5 L1027.9 525.5 L1031.6 521.5 L1039.0 521.5 L1042.7 517.5 L1046.4 517.5 L1050.0 513.5 L1057.2 513.5 L1060.8 509.5 L1064.5 509.5 L1068.1 505.5 L1071.7 505.5 L1075.3 501.5 L1082.6 501.5 L1086.3 497.5 L1093.8 497.5 L1097.5 493.5 L1105.1 493.5 L1108.8 489.5 L1116.3 489.5 L1120.1 485.5 L1123.8 485.5 L1127.6 481.5 L1135.1 481.5 L1138.9 477.5 L1146.4 477.5 L1150.1 473.5 L1157.6 473.5 L1161.4 469.5 L1168.7 469.5 L1172.4 465.5 L1176.0 465.5 L1179.7 461.5 L1187.0 461.5 L1190.7 457.5 L1194.4 457.5 L1198.0 453.5 L1201.6 453.5 L1205.2 449.5 L1212.4 449.5 L1215.9 445.5 L1219.5 445.5 L1223.1 441.5 L1226.7 441.5 L1230.2 437.5 L1233.8 437.5 L1237.5 433.5 L1244.8 433.5 L1248.5 429.5 L1255.9 429.5 L1259.5 425.5 L1263.2 425.5 L1266.9 421.5 L1270.3 421.5 L1273.5 417.5 L1276.7 417.5 L1280.2 413.5 L1283.8 413.5 L1287.5 409.5 L1294.9 409.5 L1298.6 405.5 L1302.3 405.5 L1305.9 401.5 L1313.3 401.5 L1317.0 397.5 L1320.7 397.5 L1324.4 393.5 L1331.7 393.5 L1335.4 389.5 L1342.8 389.5 L1346.5 385.5 L1350.2 385.5 L1353.9 381.5 L1361.3 381.5 L1365.0 377.5 L1368.7 377.5 L1372.4 373.5 L1379.8 373.5 L1383.5 369.5 L1390.8 369.5 L1394.4 365.5 L1398.0 365.5 L1401.6 361.5 L1405.2 361.5 L1408.8 357.5 L1412.4 357.5 L1416.0 353.5 L1423.2 353.5 L1426.7 349.5 L1430.3 349.5 L1433.8 345.5 L1437.3 345.5 L1440.8 341.5 L1444.3 341.5 L1447.9 337.5 L1451.3 337.5 L1454.7 333.5 L1458.1 333.5 L1461.5 329.5 L1464.9 329.5 L1468.3 325.5 L1471.8 325.5 L1475.4 321.5 L1479.1 321.5 L1482.7 317.5 L1490.0 317.5 L1493.6 313.5 L1497.0 313.5 L1500.3 309.5 L1503.5 309.5 L1506.8 305.5 L1510.0 301.5 L1513.3 301.5 L1516.5 297.5 L1519.8 297.5 L1526.0 289.5 L1529.1 289.5 L1535.3 281.5 L1538.5 281.5 L1541.6 277.5 L1544.7 277.5 L1550.5 269.5 L1553.4 269.5 L1562.1 257.5 L1565.0 257.5 L1570.8 249.5 L1573.0 249.5 L1575.2 245.5 L1577.5 241.5 L1579.7 237.5 L1582.4 233.5 L1585.6 233.5 L1588.8 229.5 L1592.0 229.5 L1598.4 221.5 L1601.6 221.5 L1607.6 213.5 L1610.6 213.5 L1616.6 205.5 L1619.6 205.5 L1622.4 201.5 L1627.2 193.5 L1629.7 193.5 L1632.1 189.5 L1634.8 185.5 L1638.3 185.5 L1641.7 181.5 L1645.2 181.5 L1648.7 177.5 L1651.9 177.5 L1657.9 169.5 L1661.0 169.5 L1664.0 165.5 L1667.1 161.5 L1670.6 161.5 L1674.2 157.5 L1681.4 157.5 L1684.9 153.5 L1687.8 149.5 L1690.7 149.5 L1693.6 145.5 L1696.6 141.5 L1699.5 141.5 L1702.2 137.5 L1707.4 129.5 L1710.0 129.5 L1712.6 125.5 L1716.0 121.5 L1719.4 121.5 L1722.8 117.5 L1726.2 117.5 L1729.6 113.5 L1733.0 113.5 L1736.3 109.5 L1739.5 109.5 L1746.1 101.5 L1749.5 101.5 L1752.8 97.5 L1756.2 97.5 L1759.6 93.5 L1763.0 93.5 L1766.6 89.5 L1770.2 89.5 L1773.8 85.5 L1777.4 85.5 L1780.7 81.5 L1784.1 81.5 L1787.5 77.5 L1790.8 77.5 L1794.2 73.5 L1797.5 73.5 L1800.8 69.5 L1828.0 69.5 L1831.8 73.5 L1843.4 73.5 L1847.2 77.5 L1854.6 77.5 L1858.0 81.5 L1861.4 81.5 L1865.3 85.5 L1880.5 85.5 L1883.5 89.5 L1886.6 93.5 L1890.0 93.5 L1893.5 97.5 L1896.9 97.5 L1900.3 101.5 L1903.6 101.5 L1906.9 105.5 L1910.3 105.5 L1916.9 113.5 L1920.3 113.5 L1923.7 117.5 L1931.2 117.5 L1934.9 121.5 L1938.7 121.5 L1942.2 125.5 L1945.6 125.5 L1949.1 129.5 L1952.5 129.5 L1955.8 133.5 L1959.1 133.5 L1962.5 137.5 L1970.1 137.5 L1973.9 141.5 L1981.4 141.5 L1985.1 145.5 L1992.5 145.5 L1996.3 149.5 L2003.9 149.5 L2007.7 153.5 L2019.2 153.5 L2023.1 157.5 L2050.3 157.5 L2053.7 153.5 L2058.8 153.5 L2058.8 165.5 L2058.7 169.5 L2058.4 173.5 L2057.2 185.5 L2056.9 189.5 L2055.7 201.5 L2053.7 217.5 L2053.1 221.5 L2052.1 229.5 L2051.4 233.5 L2050.6 237.5 L2049.9 241.5 L2045.9 261.5 L2045.2 265.5 L2044.6 269.5 L2043.9 273.5 L2043.3 277.5 L2042.6 281.5 L2042.0 285.5 L2040.6 293.5 L2039.7 297.5 L2038.7 301.5 L2036.9 309.5 L2036.1 313.5 L2035.4 317.5 L2032.2 333.5 L2031.3 333.5 L2029.3 341.5 L2028.4 345.5 L2026.4 353.5 L2025.5 357.5 L2020.5 377.5 L2014.5 397.5 L2013.0 401.5 L2009.8 409.5 L2008.3 413.5 L2006.7 417.5 L2005.1 417.5 L2003.5 421.5 L2002.0 425.5 L2000.4 429.5 L1998.7 433.5 L1993.3 445.5 L1991.6 449.5 L1990.4 453.5 L1989.1 457.5 L1987.9 461.5 L1986.5 461.5 L1979.3 477.5 L1978.0 481.5 L1976.8 485.5 L1975.5 489.5 L1974.3 493.5 L1968.9 505.5 L1967.1 505.5 L1963.9 513.5 L1962.4 517.5 L1956.0 533.5 L1954.5 537.5 L1950.9 545.5 L1949.2 545.5 L1943.8 557.5 L1939.8 565.5 L1937.9 569.5 L1935.9 573.5 L1933.9 573.5 L1927.6 585.5 L1925.4 589.5 L1921.2 597.5 L1919.4 597.5 L1915.8 605.5 L1914.1 609.5 L1912.3 613.5 L1910.3 617.5 L1906.1 625.5 L1904.0 625.5 L1899.8 633.5 L1892.9 645.5 L1890.6 645.5 L1888.2 649.5 L1881.3 661.5 L1878.9 665.5 L1876.6 665.5 L1874.3 669.5 L1872.1 673.5 L1867.9 681.5 L1865.7 685.5 L1863.6 685.5 L1861.5 689.5 L1859.1 693.5 L1853.9 701.5 L1851.4 701.5 L1846.2 709.5 L1843.7 713.5 L1841.1 713.5 L1838.6 717.5 L1836.0 721.5 L1833.6 725.5 L1831.2 725.5 L1828.8 729.5 L1826.3 733.5 L1821.5 741.5 L1819.0 741.5 L1813.8 749.5 L1811.3 753.5 L1808.7 757.5 L1806.1 757.5 L1800.5 765.5 L1797.6 765.5 L1794.8 769.5 L1791.9 773.5 L1789.1 777.5 L1786.4 777.5 L1778.6 789.5 L1776.0 789.5 L1773.4 793.5 L1770.7 797.5 L1767.8 797.5 L1762.2 805.5 L1759.3 809.5 L1756.5 809.5 L1751.1 817.5 L1748.5 821.5 L1745.9 821.5 L1743.2 825.5 L1738.0 833.5 L1735.2 833.5 L1732.4 837.5 L1729.5 841.5 L1726.7 841.5 L1723.9 845.5 L1721.0 849.5 L1718.2 853.5 L1715.4 853.5 L1712.6 857.5 L1709.7 861.5 L1706.9 861.5 L1704.1 865.5 L1701.2 869.5 L1698.2 869.5 L1695.1 873.5 L1692.1 877.5 L1689.0 877.5 L1686.0 881.5 L1682.9 885.5 L1679.6 885.5 L1676.4 889.5 L1673.1 889.5 L1669.8 893.5 L1666.6 897.5 L1663.3 897.5 L1659.9 901.5 L1656.6 901.5 L1653.3 905.5 L1647.6 905.5 L1644.2 909.5 L1640.9 909.5 L1634.1 917.5 L1630.8 917.5 L1627.5 921.5 L1624.1 921.5 L1620.8 925.5 L1617.4 925.5 L1614.0 929.5 L1610.5 929.5 L1607.0 933.5 L1603.6 933.5 L1600.2 937.5 L1596.9 937.5 L1593.5 941.5 L1590.1 941.5 L1586.8 945.5 L1583.2 945.5 L1579.7 949.5 L1576.1 949.5 L1572.5 953.5 L1568.9 953.5 L1565.3 957.5 L1561.8 957.5 L1558.2 961.5 L1551.0 961.5 L1547.3 965.5 L1543.6 965.5 L1539.9 969.5 L1532.7 969.5 L1529.1 973.5 L1525.5 973.5 L1522.0 977.5 L1518.3 977.5 L1514.6 981.5 L1507.2 981.5 L1503.6 985.5 L1499.9 985.5 L1496.2 989.5 L1488.8 989.5 L1485.0 993.5 L1477.5 993.5 L1473.8 997.5 L1466.1 997.5 L1462.3 1001.5 L1451.0 1001.5 L1447.4 1005.5 L1443.8 1005.5 L1440.2 1009.5 L1436.6 1009.5 L1432.9 1013.5 L1425.5 1013.5 L1421.8 1017.5 L1414.3 1017.5 L1410.6 1021.5 L1406.9 1021.5 L1403.2 1025.5 L1395.8 1025.5 L1392.0 1029.5 L1384.5 1029.5 L1380.6 1033.5 L1369.0 1033.5 L1365.1 1037.5 L1349.5 1037.5 L1345.5 1041.5 L1329.9 1041.5 L1325.9 1045.5 L1310.2 1045.5 L1306.3 1049.5 L1286.6 1049.5 L1282.7 1053.5 L1263.0 1053.5 L1259.1 1057.5 L1243.3 1057.5 L1239.4 1061.5 L1223.7 1061.5 L1219.8 1065.5 L1208.1 1065.5 L1204.3 1069.5 L1192.8 1069.5 L1188.9 1073.5 L1181.3 1073.5 L1177.4 1077.5 L1165.9 1077.5 L1162.1 1081.5 L1154.6 1081.5 L1150.9 1085.5 L1143.5 1085.5 L1139.7 1089.5 L1136.0 1089.5 L1132.4 1093.5 L1125.1 1093.5 L1121.3 1097.5 L1113.9 1097.5 L1110.1 1101.5 L1106.5 1101.5 L1102.9 1105.5 L1099.4 1105.5 L1095.8 1109.5 L1084.1 1109.5 L1080.8 1113.5 L1073.6 1113.5 L1069.6 1117.5 L1062.7 1117.5 L1059.0 1121.5 L1047.5 1121.5 L1043.6 1125.5 L1032.1 1125.5 L1028.9 1129.5 L1009.4 1129.5 L1006.2 1133.5 L986.2 1133.5 L982.6 1137.5 L955.1 1137.5 L951.5 1141.5 L928.4 1141.5 L924.4 1145.5 L913.5 1145.5 L909.7 1149.5 L881.8 1149.5 L878.0 1153.5 L842.4 1153.5 L839.1 1157.5 L571.8 1157.5 L568.6 1161.5 L484.9 1161.5 L481.6 1165.5 L446.2 1165.5 L443.0 1169.5 L407.4 1169.5 L404.5 1173.5 L349.3 1173.5 L346.0 1169.5 L322.4 1169.5 L319.0 1165.5 L287.7 1165.5 L284.5 1161.5 L283.1 1161.5" stroke="#ff0000"/>
</g>
<g fill="#000" shape-rendering="crispEdges">
<rect x="282" y="60" width="2" height="1290"/>
<rect x="262" y="1328.5" width="1798.5" height="1.5"/>
<rect x="262" y="59.5" width="21" height="1.5"/>
<rect x="262" y="219.5" width="21" height="1.5"/>
<rect x="262" y="375.5" width="21" height="1.5"/>
<rect x="262" y="535.5" width="21" height="1.5"/>
<rect x="262" y="696.0" width="21" height="1.5"/>
<rect x="262" y="852.0" width="21" height="1.5"/>
<rect x="262" y="1013.0" width="21" height="1.5"/>
<rect x="262" y="1168.5" width="21" height="1.5"/>
<rect x="506.0" y="1329" width="2" height="21"/>
<rect x="726.0" y="1329" width="2" height="21"/>
<rect x="950.5" y="1329" width="2" height="21"/>
<rect x="1170.0" y="1329" width="2" height="21"/>
<rect x="1394.0" y="1329" width="2" height="21"/>
<rect x="1614.5" y="1329" width="2" height="21"/>
<rect x="1838.5" y="1329" width="2" height="21"/>
<rect x="2058.5" y="1329" width="2" height="21"/>
</g>
<g font-size="64" filter="url(#th)">
<text x="159.8" y="83.0">25</text>
<text x="159.8" y="243.0">20</text>
<text x="159.8" y="399.0">15</text>
<text x="159.8" y="559.0">10</text>
<text x="195.4" y="719.5">5</text>
<text x="195.4" y="875.5">0</text>
<text x="174.1" y="1036.5">-5</text>
<text x="138.5" y="1192.0">-10</text>
<text x="138.5" y="1352.0">-15</text>
<text x="266.7" y="1443.5">0</text>
<text x="464.0" y="1443.5">0.5</text>
<text x="710.7" y="1443.5">1</text>
<text x="908.5" y="1443.5">1.5</text>
<text x="1154.7" y="1443.5">2</text>
<text x="1352.0" y="1443.5">2.5</text>
<text x="1599.2" y="1443.5">3</text>
<text x="1796.5" y="1443.5">3.5</text>
<text x="2043.2" y="1443.5">4</text>
<text x="2260.0" y="310.2" word-spacing="-2">1.0 V</text>
<text x="2260.0" y="450.3" word-spacing="-2">1.5 V</text>
<text x="2260.0" y="594.1" word-spacing="-2">2.0 V</text>
<text x="2260.0" y="734.3" word-spacing="-2">2.5 V</text>
<text x="2260.0" y="878.8" word-spacing="-2">3.0 V</text>
<text x="2260.0" y="1019.0" word-spacing="-2">3.4 V</text>
<text x="2260.0" y="1159.2" word-spacing="-2">3.6 V</text>
<text x="2260.0" y="1302.6" word-spacing="-2">4.0 V</text>
<text x="1081" y="1553" font-size="64" font-weight="bold"><tspan font-family="Liberation Serif,serif" font-size="68.5" y="1555">Δ</tspan><tspan x="1129" y="1553" font-style="italic">E</tspan><tspan x="1182.5" word-spacing="-2.6">, V</tspan></text>
<text transform="translate(90,820) rotate(-90)" font-size="64" font-weight="bold"><tspan x="0" y="0" font-style="italic">i</tspan><tspan x="26">, </tspan><tspan x="59">m</tspan><tspan x="115.2">A </tspan><tspan x="180">g</tspan><tspan x="216" y="-34" font-size="45">-1</tspan></text>
</g>
<g fill="#fff">
<rect x="163.7" y="393.4" width="12.2" height="6.6"/>
<rect x="181.6" y="393.4" width="11.7" height="6.6"/>
<rect x="163.7" y="553.4" width="12.2" height="6.6"/>
<rect x="181.6" y="553.4" width="11.7" height="6.6"/>
<rect x="163.7" y="1186.4" width="12.2" height="6.6"/>
<rect x="181.6" y="1186.4" width="11.7" height="6.6"/>
<rect x="163.7" y="1346.4" width="12.2" height="6.6"/>
<rect x="181.6" y="1346.4" width="11.7" height="6.6"/>
<rect x="714.6" y="1437.9" width="12.2" height="6.6"/>
<rect x="732.5" y="1437.9" width="11.7" height="6.6"/>
<rect x="912.4" y="1437.9" width="12.2" height="6.6"/>
<rect x="930.3" y="1437.9" width="11.7" height="6.6"/>
<rect x="2263.9" y="304.6" width="12.2" height="6.6"/>
<rect x="2281.8" y="304.6" width="11.7" height="6.6"/>
<rect x="2263.9" y="444.7" width="12.2" height="6.6"/>
<rect x="2281.8" y="444.7" width="11.7" height="6.6"/>
<g transform="translate(90,820) rotate(-90)"><rect x="232.8" y="-39.4" width="8.7" height="6.4"/><rect x="247.7" y="-39.4" width="8.6" height="6.4"/></g>
</g>
<g stroke-width="9" stroke-linecap="round" fill="none" shape-rendering="crispEdges">
<line x1="2147.5" y1="292.4" x2="2243.5" y2="292.4" stroke="#000000"/>
<line x1="2147.5" y1="432.5" x2="2243.5" y2="432.5" stroke="#808080"/>
<line x1="2147.5" y1="576.3" x2="2243.5" y2="576.3" stroke="#008000"/>
<line x1="2147.5" y1="716.5" x2="2243.5" y2="716.5" stroke="#0000ff"/>
<line x1="2147.5" y1="861.0" x2="2243.5" y2="861.0" stroke="#800000"/>
<line x1="2147.5" y1="1001.2" x2="2243.5" y2="1001.2" stroke="#808000"/>
<line x1="2147.5" y1="1141.4" x2="2243.5" y2="1141.4" stroke="#ff00ff"/>
<line x1="2147.5" y1="1284.8" x2="2243.5" y2="1284.8" stroke="#ff0000"/>
</g>
</svg>
</body></html>
